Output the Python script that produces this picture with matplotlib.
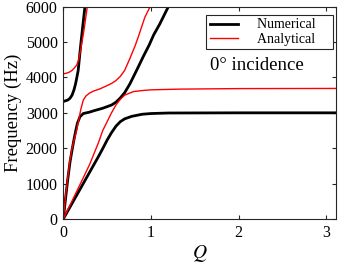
import matplotlib
matplotlib.use("Agg")
import matplotlib.pyplot as plt
import numpy as np

plt.rcParams['font.family'] = ['Liberation Serif', 'DejaVu Serif']
plt.rcParams['mathtext.fontset'] = 'stix'

# numerical (black) branches, Q vs frequency in Hz
num_low_q = [0, 0.1, 0.2, 0.3, 0.4, 0.45, 0.5, 0.55, 0.6, 0.65, 0.7, 0.78, 0.9, 1.0, 1.2, 2.0, 3.2]
num_low_f = [0, 440, 880, 1320, 1760, 1990, 2230, 2440, 2620, 2750, 2830, 2900, 2960, 2980, 2995, 3000, 3000]

num_mid_q = [0, 0.02, 0.05, 0.076, 0.1, 0.13, 0.16, 0.19, 0.228, 0.3, 0.35, 0.45, 0.55, 0.6, 0.65,
             0.7, 0.76, 0.84, 0.912, 0.98, 1.03, 1.1, 1.2, 1.25]
num_mid_f = [0, 450, 1100, 1600, 1950, 2350, 2700, 2890, 2980, 3020, 3060, 3130, 3220, 3300, 3420,
             3570, 3820, 4220, 4590, 4920, 5200, 5510, 6010, 6250]

num_top_q = [0, 0.05, 0.076, 0.1, 0.122, 0.14, 0.153, 0.17, 0.198, 0.22, 0.247, 0.26]
num_top_f = [3320, 3360, 3410, 3500, 3650, 3820, 3980, 4200, 4900, 5400, 6000, 6300]

# analytical (red) branches
ana_low_q = [0, 0.1, 0.2, 0.3, 0.4, 0.45, 0.5, 0.55, 0.6, 0.65, 0.7, 0.8, 0.9, 1.0, 1.33, 2.0, 3.2]
ana_low_f = [0, 510, 1020, 1540, 2150, 2500, 2750, 3000, 3220, 3380, 3500, 3600, 3630, 3650, 3670, 3685, 3690]

ana_mid_q = [0, 0.02, 0.05, 0.076, 0.1, 0.13, 0.153, 0.18, 0.2, 0.228, 0.26, 0.3, 0.35, 0.42, 0.5,
             0.55, 0.6, 0.65, 0.7, 0.76, 0.82, 0.86, 0.93, 1.0, 1.03]
ana_mid_f = [0, 500, 1150, 1670, 2000, 2300, 2520, 2850, 3100, 3360, 3480, 3560, 3620, 3680, 3770,
             3830, 3910, 4030, 4200, 4540, 4900, 5180, 5700, 6050, 6250]

ana_top_q = [0, 0.05, 0.076, 0.1, 0.13, 0.153, 0.175, 0.198, 0.236, 0.274, 0.29]
ana_top_f = [4100, 4130, 4160, 4200, 4280, 4350, 4500, 4780, 5340, 6000, 6250]

fig = plt.figure(figsize=(3.41, 2.68), dpi=100)
ax = fig.add_axes([0.1856, 0.183, 0.801, 0.792])

# trailing spaces give the wide MATLAB-style legend box
ax.plot(num_low_q, num_low_f, color='black', lw=2.0, label='Numerical    ')
ax.plot(num_mid_q, num_mid_f, color='black', lw=2.0)
ax.plot(num_top_q, num_top_f, color='black', lw=2.0)
ax.plot(ana_low_q, ana_low_f, color='red', lw=1.0, label='Analytical    ')
ax.plot(ana_mid_q, ana_mid_f, color='red', lw=1.0)
ax.plot(ana_top_q, ana_top_f, color='red', lw=1.0)

ax.set_xlim(0, 3.115)
ax.set_ylim(0, 6000)
ax.set_xticks([0, 1, 2, 3])
ax.set_yticks([0, 1000, 2000, 3000, 4000, 5000, 6000])
ax.tick_params(direction='in', top=True, right=True, labelsize=11.5, length=3,
               width=0.8, color='#262626', pad=4)
for s in ax.spines.values():
    s.set_linewidth(0.8)
    s.set_color('#262626')

ax.set_xlabel('$Q$', fontsize=14, labelpad=2)
ax.set_ylabel('Frequency (Hz)', fontsize=13.5, labelpad=3)

leg = ax.legend(loc='upper right', fontsize=10, handlelength=2.0, handletextpad=1.4,
                borderpad=0.25, labelspacing=0.12, fancybox=False, framealpha=1,
                edgecolor='#262626', bbox_to_anchor=(0.988, 0.962), borderaxespad=0,
                handleheight=0.6)
leg.get_frame().set_linewidth(0.8)

ax.text(0.537, 0.70, '0° incidence', transform=ax.transAxes, fontsize=13.5, va='baseline')

fig.savefig('out.png', dpi=100)
